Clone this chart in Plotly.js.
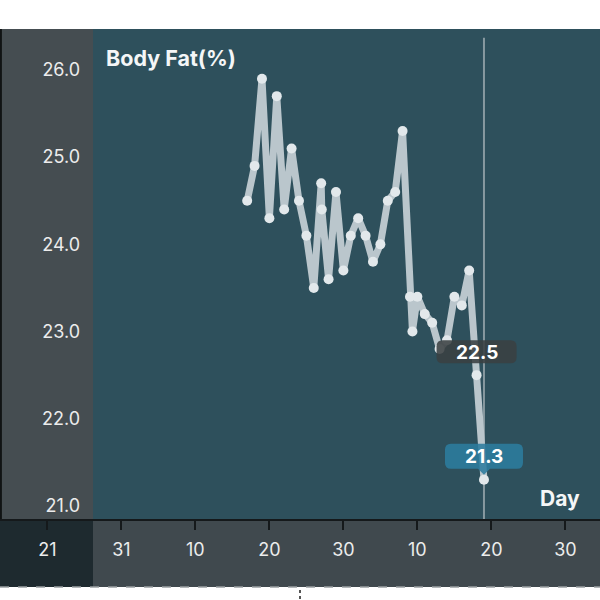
<!DOCTYPE html>
<html>
<head>
<meta charset="utf-8">
<script src="https://cdn.plot.ly/plotly-3.0.1.min.js"></script>
<style>
  html, body { margin: 0; padding: 0; background: #ffffff; }
  #chart { width: 600px; height: 600px; }
  .scatterlayer path.js-line { stroke-linejoin: round !important; stroke-linecap: round !important; }
</style>
</head>
<body>
<div id="chart"></div>
<script>
// ---- data ----
const dates = [
  '2023-09-17', '2023-09-18', '2023-09-19', '2023-09-20', '2023-09-21',
  '2023-09-22', '2023-09-23', '2023-09-24', '2023-09-25', '2023-09-26',
  '2023-09-27 00:00', '2023-09-27 02:00', '2023-09-28', '2023-09-29', '2023-09-30',
  '2023-10-01', '2023-10-02', '2023-10-03', '2023-10-04', '2023-10-05',
  '2023-10-06', '2023-10-07', '2023-10-08', '2023-10-09 00:00', '2023-10-09 08:00',
  '2023-10-10', '2023-10-11', '2023-10-12', '2023-10-13', '2023-10-14',
  '2023-10-15', '2023-10-16', '2023-10-17', '2023-10-18', '2023-10-19'
];
const bodyFat = [
  24.5, 24.9, 25.9, 24.3, 25.7,
  24.4, 25.1, 24.5, 24.1, 23.5,
  24.7, 24.4, 23.6, 24.6, 23.7,
  24.1, 24.3, 24.1, 23.8, 24.0,
  24.5, 24.6, 25.3, 23.4, 23.0,
  23.4, 23.2, 23.1, 22.8, 22.9,
  23.4, 23.3, 23.7, 22.5, 21.3
];
const chartTitle = 'Body Fat(%)';
const xAxisName = 'Day';
const xRange = ['2023-08-14 14:17', '2023-11-03 16:19'];
const yRange = [20.85, 26.47];
const prevIdx = bodyFat.length - 2;   // earlier highlighted reading
const lastIdx = bodyFat.length - 1;   // selected reading

const FONT = 'Inter, "Liberation Sans", Arial, sans-serif';

function roundRect(x0, x1, y0, y1, r) {
  return 'M' + (x0 + r) + ',' + y0 +
    ' L' + (x1 - r) + ',' + y0 + ' Q' + x1 + ',' + y0 + ' ' + x1 + ',' + (y0 + r) +
    ' L' + x1 + ',' + (y1 - r) + ' Q' + x1 + ',' + y1 + ' ' + (x1 - r) + ',' + y1 +
    ' L' + (x0 + r) + ',' + y1 + ' Q' + x0 + ',' + y1 + ' ' + x0 + ',' + (y1 - r) +
    ' L' + x0 + ',' + (y0 + r) + ' Q' + x0 + ',' + y0 + ' ' + (x0 + r) + ',' + y0 + ' Z';
}

const trace = {
  type: 'scatter',
  mode: 'lines+markers',
  x: dates,
  y: bodyFat,
  line: { color: '#bac6cc', width: 7 },
  marker: { color: '#e2e8eb', size: 10 },
  hoverinfo: 'skip',
  showlegend: false
};

const bottomStrip = -(587 - 519) / 490;

const layout = {
  width: 600,
  height: 600,
  margin: { l: 0, r: 0, t: 29, b: 81, pad: 0 },
  paper_bgcolor: '#ffffff',
  plot_bgcolor: '#2e505c',
  showlegend: false,
  font: { family: FONT, color: '#ececec' },
  xaxis: {
    type: 'date',
    range: xRange,
    tick0: '2023-08-21',
    dtick: 10 * 24 * 3600 * 1000,
    tickformat: '%d',
    showgrid: false,
    zeroline: false,
    showline: true,
    linecolor: '#15191b',
    linewidth: 2,
    ticks: 'outside',
    ticklen: 9,
    tickwidth: 2,
    tickcolor: '#15191b',
    ticklabelstandoff: 4,
    tickfont: { family: FONT, size: 18, color: '#ececec' },
    fixedrange: true
  },
  yaxis: {
    range: yRange,
    side: 'left',
    anchor: 'free',
    position: 80 / 600,
    tickmode: 'linear',
    tick0: 21,
    dtick: 1,
    tickformat: '.1f',
    ticks: '',
    showgrid: false,
    zeroline: false,
    showline: false,
    tickfont: { family: FONT, size: 18, color: '#ececec' },
    fixedrange: true
  },
  shapes: [
    // left label strip
    { type: 'rect', xref: 'paper', yref: 'paper', x0: 0, x1: 93 / 600, y0: 0, y1: 1,
      fillcolor: '#454d51', line: { width: 0 }, layer: 'below' },
    // bottom axis strip
    { type: 'rect', xref: 'paper', yref: 'paper', x0: 0, x1: 1, y0: bottomStrip, y1: 0,
      fillcolor: '#40494e', line: { width: 0 }, layer: 'below' },
    // bottom-left corner
    { type: 'rect', xref: 'paper', yref: 'paper', x0: 0, x1: 93 / 600, y0: bottomStrip, y1: 0,
      fillcolor: '#1e2a2f', line: { width: 0 }, layer: 'below' },
    // left edge line
    { type: 'line', xref: 'paper', yref: 'paper', x0: 0.0015, x1: 0.0015, y0: 0, y1: 1,
      line: { color: '#101314', width: 2 } },
    // dashed separator under the chart
    { type: 'line', xref: 'paper', yref: 'paper', x0: 0, x1: 1, y0: bottomStrip, y1: bottomStrip,
      line: { color: '#9aa0a3', width: 1.5, dash: 'dash' } },
    { type: 'line', xref: 'paper', yref: 'paper', x0: 0.5, x1: 0.5, y0: -(590 - 519) / 490, y1: -(602 - 519) / 490,
      line: { color: '#555', width: 2, dash: 'dot' } },
    // crosshair at the selected reading
    { type: 'line', xref: 'x', yref: 'paper', x0: dates[lastIdx], x1: dates[lastIdx], y0: 0, y1: 0.982,
      line: { color: 'rgba(150,166,172,0.85)', width: 2 }, layer: 'below' },
    // bubble for earlier reading
    { type: 'path', xref: 'x', yref: 'y', xsizemode: 'pixel', ysizemode: 'pixel',
      xanchor: dates[prevIdx], yanchor: bodyFat[prevIdx],
      path: roundRect(-40, 40, 12, 35, 6),
      fillcolor: 'rgba(58,64,66,0.88)', line: { width: 0 }, layer: 'above' },
    // bubble for selected reading
    { type: 'path', xref: 'x', yref: 'y', xsizemode: 'pixel', ysizemode: 'pixel',
      xanchor: dates[lastIdx], yanchor: bodyFat[lastIdx],
      path: roundRect(-39, 39, 11, 36, 6) + ' M-6,11 L0,5 L6,11 Z',
      fillcolor: 'rgba(44,124,158,0.88)', line: { width: 0 }, layer: 'above' }
  ],
  annotations: [
    { xref: 'paper', yref: 'paper', x: 104 / 600, y: (519 - 58) / 490,
      xanchor: 'left', yanchor: 'middle', showarrow: false, text: chartTitle,
      font: { family: FONT, size: 21.5, color: '#f4f6f7', weight: 700 } },
    { xref: 'paper', yref: 'paper', x: 582 / 600, y: (519 - 498) / 490,
      xanchor: 'right', yanchor: 'middle', showarrow: false, text: xAxisName,
      font: { family: FONT, size: 21, color: '#f4f6f7', weight: 700 } },
    { xref: 'x', yref: 'y', x: dates[prevIdx], y: bodyFat[prevIdx], yshift: 23,
      xanchor: 'center', yanchor: 'middle', showarrow: false, text: bodyFat[prevIdx].toFixed(1),
      font: { family: FONT, size: 19, color: '#ffffff', weight: 700 } },
    { xref: 'x', yref: 'y', x: dates[lastIdx], y: bodyFat[lastIdx], yshift: 23,
      xanchor: 'center', yanchor: 'middle', showarrow: false, text: bodyFat[lastIdx].toFixed(1),
      font: { family: FONT, size: 19, color: '#ffffff', weight: 700 } }
  ]
};

Plotly.newPlot('chart', [trace], layout, { staticPlot: true, displayModeBar: false });
</script>
</body>
</html>
